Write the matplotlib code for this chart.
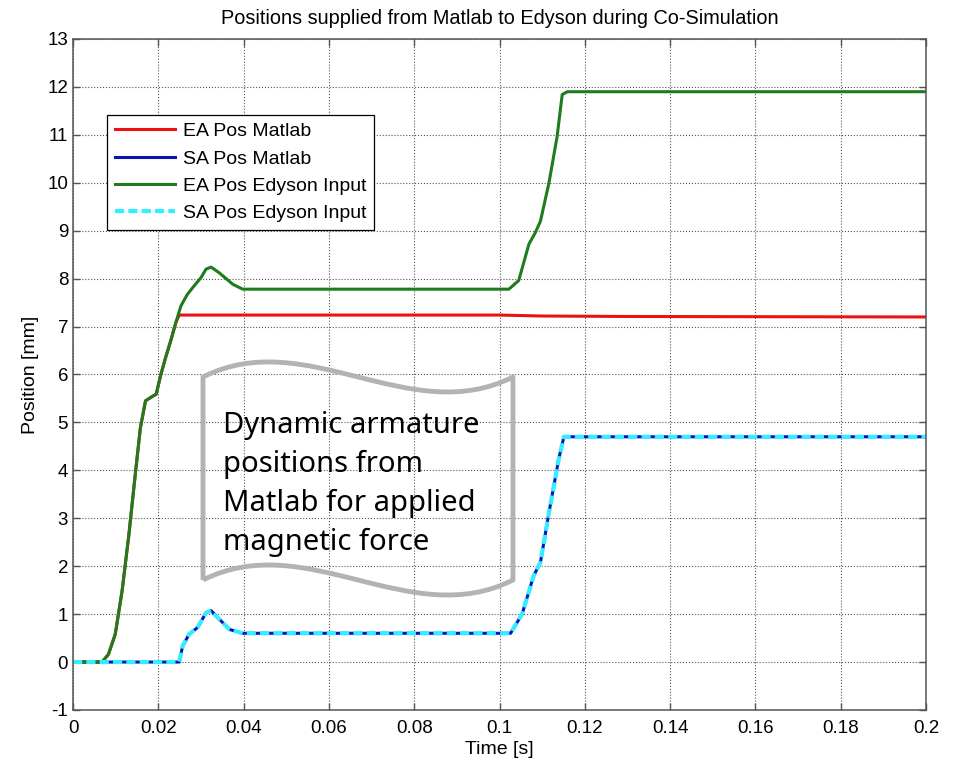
import matplotlib
matplotlib.use('Agg')
import matplotlib.pyplot as plt
from matplotlib.path import Path
from matplotlib.patches import PathPatch

# EA Pos Edyson Input (green)
ea_edyson_t = [0, 0.0068, 0.0083, 0.0099, 0.0115, 0.0131, 0.0146, 0.0158, 0.0170, 0.0182,
               0.0195, 0.0206, 0.0217, 0.0229, 0.0241, 0.0253, 0.0268, 0.0284, 0.0300, 0.0312,
               0.0324, 0.0343, 0.0375, 0.0398, 0.1022, 0.1045, 0.1069, 0.1084, 0.1096, 0.1116,
               0.1135, 0.1147, 0.1159, 0.2]
ea_edyson = [0, 0, 0.16, 0.58, 1.48, 2.66, 3.92, 4.89, 5.45, 5.52,
             5.59, 6.0, 6.35, 6.7, 7.08, 7.43, 7.67, 7.85, 8.02, 8.2,
             8.24, 8.12, 7.88, 7.78, 7.78, 7.96, 8.72, 8.96, 9.2, 10.0,
             10.96, 11.84, 11.9, 11.9]

# EA Pos Matlab (red) - same as green until it stops at ~7.2
ea_matlab_t = [0, 0.0068, 0.0083, 0.0099, 0.0115, 0.0131, 0.0146, 0.0158, 0.0170, 0.0182,
               0.0195, 0.0206, 0.0217, 0.0229, 0.0241, 0.0249,
               0.06, 0.10, 0.11, 0.13, 0.2]
ea_matlab = [0, 0, 0.16, 0.58, 1.48, 2.66, 3.92, 4.89, 5.45, 5.52,
             5.59, 6.0, 6.35, 6.7, 7.08, 7.24,
             7.24, 7.24, 7.22, 7.21, 7.2]

# SA Pos Matlab / SA Pos Edyson Input (blue / cyan)
sa_t = [0, 0.0249, 0.0257, 0.0272, 0.0292, 0.0312, 0.0324, 0.0339, 0.0367, 0.0398,
        0.1026, 0.1053, 0.1080, 0.1096, 0.1116, 0.1139, 0.1151, 0.2]
sa_matlab = [0, 0, 0.33, 0.58, 0.72, 1.03, 1.07, 0.93, 0.68, 0.6,
             0.6, 1.0, 1.8, 2.08, 3.12, 4.24, 4.7, 4.7]
sa_edyson = [0, 0, 0.33, 0.58, 0.72, 1.03, 1.07, 0.93, 0.68, 0.6,
             0.6, 1.0, 1.8, 2.08, 3.12, 4.24, 4.7, 4.7]

x_ticks = [0, 0.02, 0.04, 0.06, 0.08, 0.1, 0.12, 0.14, 0.16, 0.18, 0.2]
x_labels = ['0', '0.02', '0.04', '0.06', '0.08', '0.1', '0.12', '0.14', '0.16', '0.18', '0.2']
y_ticks = list(range(-1, 14))

note = 'Dynamic armature\npositions from\nMatlab for applied\nmagnetic force'

plt.rcParams['font.family'] = ['Liberation Sans', 'DejaVu Sans']
plt.rcParams['axes.unicode_minus'] = False

fig = plt.figure(figsize=(9.57, 7.63), dpi=100)
ax = fig.add_axes([0.0763, 0.0695, 0.8913, 0.8794])

ax.plot(ea_matlab_t, ea_matlab, color='#ee1111', lw=2.2, label='EA Pos Matlab')
ax.plot(sa_t, sa_matlab, color='#0a14b4', lw=2.2, label='SA Pos Matlab')
ax.plot(ea_edyson_t, ea_edyson, color='#1e7b1e', lw=2.2, label='EA Pos Edyson Input')
ax.plot(sa_t, sa_edyson, color='#33eeff', lw=3, linestyle=(0, (2.2, 1.0)),
        dash_capstyle='butt', label='SA Pos Edyson Input')

ax.set_xlim(0, 0.2)
ax.set_ylim(-1, 13)
ax.set_xticks(x_ticks)
ax.set_xticklabels(x_labels)
ax.set_yticks(y_ticks)
ax.tick_params(direction='in', top=True, right=True, length=5, width=1,
               color='#555555', labelsize=13.5)
ax.tick_params(axis='x', pad=7)
ax.tick_params(axis='y', pad=3.5)
for s in ax.spines.values():
    s.set_color('#555555')
    s.set_linewidth(1.1)
ax.grid(True, linestyle=':', color='#555555', lw=0.8)

ax.set_title('Positions supplied from Matlab to Edyson during Co-Simulation', fontsize=14.3, pad=11)
ax.set_xlabel('Time [s]', fontsize=14, labelpad=3)
ax.set_ylabel('Position [mm]', fontsize=14, labelpad=6)

leg = ax.legend(loc='upper left', bbox_to_anchor=(0.04, 0.887), fontsize=14,
                fancybox=False, framealpha=1, edgecolor='black', handlelength=3.1,
                borderaxespad=0, labelspacing=0.5, handletextpad=0.4, borderpad=0.4)
leg.get_frame().set_linewidth(0.9)

# wavy callout shape (axes fraction)
L, R, T, B, a = 0.1524, 0.5158, 0.4963, 0.1937, 0.0775
w = R - L
verts = [(L, B), (L, T),
         (L + w / 3, T + a), (L + 2 * w / 3, T - a), (R, T),
         (R, B),
         (L + 2 * w / 3, B - a), (L + w / 3, B + a), (L, B)]
codes = [Path.MOVETO, Path.LINETO,
         Path.CURVE4, Path.CURVE4, Path.CURVE4,
         Path.LINETO,
         Path.CURVE4, Path.CURVE4, Path.CURVE4]
shape = PathPatch(Path(verts, codes), transform=ax.transAxes, facecolor='none',
                  edgecolor='#b3b3b3', lw=3.5, joinstyle='round', zorder=4)
ax.add_patch(shape)
ax.text(0.1758, 0.446, note, transform=ax.transAxes, ha='left', va='top',
        fontsize=21, family=['Noto Sans', 'DejaVu Sans'], linespacing=1.45, zorder=5)

fig.savefig('out.png', dpi=100)
